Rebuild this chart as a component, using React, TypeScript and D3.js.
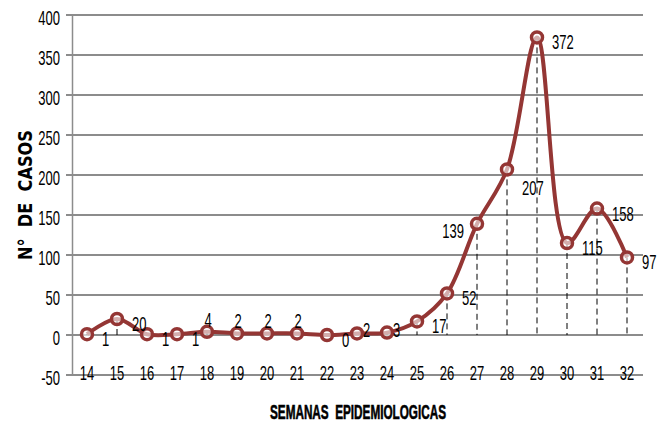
import React, { useEffect, useRef } from "react";
import * as d3 from "d3";

// weeks and case counts
const semanas = ["14", "15", "16", "17", "18", "19", "20", "21", "22", "23", "24", "25", "26", "27", "28", "29", "30", "31", "32"];
const casos = [1, 20, 1, 1, 4, 2, 2, 2, 0, 2, 3, 17, 52, 139, 207, 372, 115, 158, 97];
// where each data label sits relative to its point
const labelPlace = ["r", "r", "r", "r", "a", "a", "a", "a", "r", "c", "c", "r", "r", "l", "rb", "r", "r", "r", "r"];
const yTicks = [-50, 0, 50, 100, 150, 200, 250, 300, 350, 400];

const W = 661;
const H = 422;
const RED = "#943634";
const FONT = "'Liberation Sans', Arial, sans-serif";
const SQUEEZE = 0.62;

const App: React.FC = () => {
    const ref = useRef<SVGSVGElement>(null);

    useEffect(() => {
        const svg = d3.select(ref.current);
        svg.selectAll("*").remove();

        const x = d3.scaleBand().domain(semanas).range([72, 642]);
        const y = d3.scaleLinear().domain([-50, 400]).range([375, 15]);
        const cx = (i: number) => x(semanas[i])! + x.bandwidth() / 2;

        // narrow text: draw at (tx, ty) then squeeze horizontally
        const narrow = (g: any, tx: (d: any, i: number) => number, ty: (d: any, i: number) => number) =>
            g
                .attr("transform", (d: any, i: number) => `translate(${tx(d, i)},${ty(d, i)}) scale(${SQUEEZE},1)`)
                .style("font-family", FONT)
                .style("font-size", "21px")
                .attr("fill", "#000");

        // gridlines
        svg.append("g")
            .selectAll("line")
            .data(yTicks)
            .enter()
            .append("line")
            .attr("x1", 66)
            .attr("x2", 643)
            .attr("y1", (d) => y(d))
            .attr("y2", (d) => y(d))
            .attr("stroke", "#8c8c8c")
            .attr("stroke-width", 1.8);

        // y axis line
        svg.append("line")
            .attr("x1", 72.5)
            .attr("x2", 72.5)
            .attr("y1", y(400))
            .attr("y2", y(-50))
            .attr("stroke", "#8c8c8c")
            .attr("stroke-width", 1.5);

        // y tick labels
        narrow(
            svg.append("g").selectAll("text").data(yTicks).enter().append("text").attr("text-anchor", "end"),
            () => 60,
            (d) => y(d) + 9.5
        ).text((d: number) => d);

        // x tick labels (sit on the bottom line)
        narrow(
            svg.append("g").selectAll("text").data(semanas).enter().append("text").attr("text-anchor", "middle"),
            (d) => x(d)! + x.bandwidth() / 2,
            () => y(-50) + 5
        ).text((d: string) => d);

        // drop lines
        svg.append("g")
            .selectAll("line")
            .data(casos)
            .enter()
            .append("line")
            .attr("x1", (d, i) => cx(i))
            .attr("x2", (d, i) => cx(i))
            .attr("y1", (d) => y(d))
            .attr("y2", y(0))
            .attr("stroke", "#000")
            .attr("stroke-width", 1)
            .attr("stroke-dasharray", "6,4");

        // smoothed line
        const line = d3
            .line<number>()
            .x((d, i) => cx(i))
            .y((d) => y(d))
            .curve(d3.curveCatmullRom.alpha(0.5));

        svg.append("path")
            .datum(casos)
            .attr("d", line)
            .attr("fill", "none")
            .attr("stroke", RED)
            .attr("stroke-width", 4);

        // markers
        svg.append("g")
            .selectAll("circle")
            .data(casos)
            .enter()
            .append("circle")
            .attr("cx", (d, i) => cx(i))
            .attr("cy", (d) => y(d))
            .attr("r", 5.5)
            .attr("fill", "#fff")
            .attr("fill-opacity", 0.6)
            .attr("stroke", RED)
            .attr("stroke-width", 3.5);

        // data labels
        const offs: Record<string, [number, number, string]> = {
            r: [15, 12, "start"],
            a: [1, -5, "middle"],
            c: [6, 4, "start"],
            l: [-13, 14, "end"],
            rb: [15, 26, "start"],
        };
        narrow(
            svg.append("g")
                .selectAll("text")
                .data(casos)
                .enter()
                .append("text")
                .attr("text-anchor", (d, i) => offs[labelPlace[i]][2]),
            (d, i) => cx(i) + offs[labelPlace[i]][0],
            (d, i) => y(d) + offs[labelPlace[i]][1]
        ).text((d: number) => d);

        // axis titles
        svg.append("text")
            .attr("transform", `translate(32,195) rotate(-90)`)
            .attr("text-anchor", "middle")
            .attr("textLength", 130)
            .attr("lengthAdjust", "spacingAndGlyphs")
            .style("font-family", "'DejaVu Sans', sans-serif")
            .style("font-weight", "bold")
            .style("font-size", "19px")
            .style("white-space", "pre")
            .text("N°  DE  CASOS");

        svg.append("text")
            .attr("x", 270)
            .attr("y", 419)
            .attr("textLength", 176)
            .attr("lengthAdjust", "spacingAndGlyphs")
            .attr("stroke", "#000")
            .attr("stroke-width", 0.6)
            .style("font-family", FONT)
            .style("font-weight", "bold")
            .style("font-size", "20px")
            .style("white-space", "pre")
            .text("SEMANAS  EPIDEMIOLOGICAS");
    }, []);

    return <svg ref={ref} width={W} height={H} style={{ position: "absolute", left: 0, top: 0 }}></svg>;
};

export default App;
